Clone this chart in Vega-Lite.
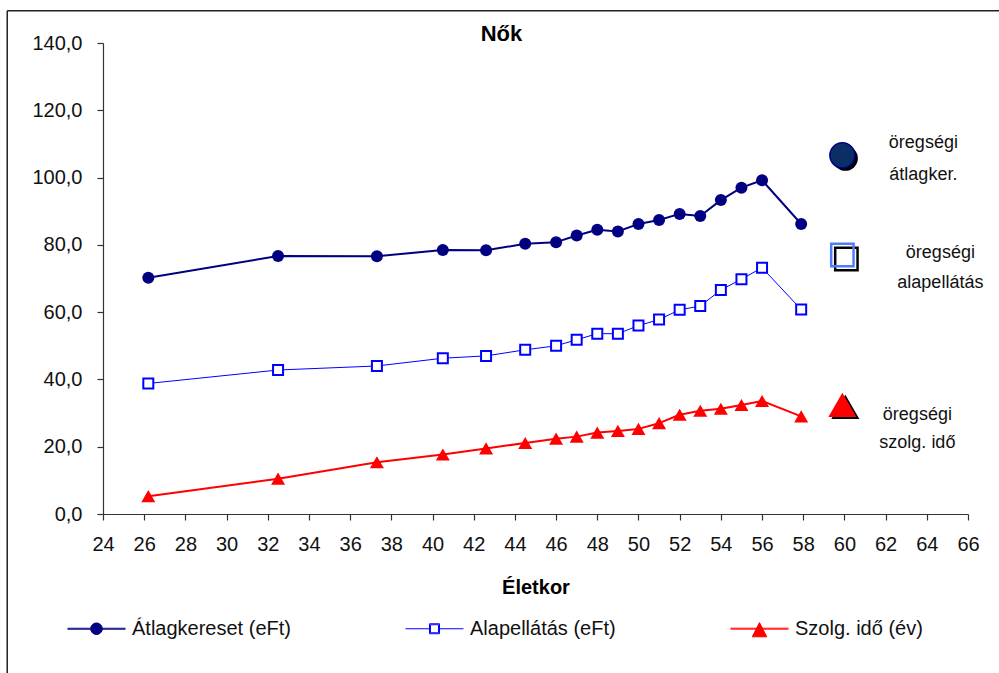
{
  "$schema": "https://vega.github.io/schema/vega-lite/v6.json",
  "width": 865,
  "height": 471,
  "autosize": {"type": "none"},
  "padding": {"left": 103, "top": 43, "right": 31, "bottom": 159},
  "background": "white",
  "config": {
    "font": "Liberation Sans Narrow, Liberation Sans, Arial, sans-serif",
    "view": {"stroke": null},
    "axis": {"grid": false, "domainColor": "#333333", "tickColor": "#333333", "labelColor": "#111111", "titleColor": "#000000", "domainWidth": 1.2, "tickWidth": 1.2}
  },
  "title": {"text": "Nők", "fontSize": 22, "fontWeight": "bold", "anchor": "middle", "dx": -34, "baseline": "alphabetic", "offset": -53, "color": "#000000"},
  "datasets": {
    "main": [
      {"age": 26.2, "series": "Átlagkereset (eFt)", "value": 70.2},
      {"age": 32.5, "series": "Átlagkereset (eFt)", "value": 76.7},
      {"age": 37.3, "series": "Átlagkereset (eFt)", "value": 76.6},
      {"age": 40.5, "series": "Átlagkereset (eFt)", "value": 78.5},
      {"age": 42.6, "series": "Átlagkereset (eFt)", "value": 78.4},
      {"age": 44.5, "series": "Átlagkereset (eFt)", "value": 80.3},
      {"age": 46, "series": "Átlagkereset (eFt)", "value": 80.8},
      {"age": 47, "series": "Átlagkereset (eFt)", "value": 82.8},
      {"age": 48, "series": "Átlagkereset (eFt)", "value": 84.5},
      {"age": 49, "series": "Átlagkereset (eFt)", "value": 84.0},
      {"age": 50, "series": "Átlagkereset (eFt)", "value": 86.2},
      {"age": 51, "series": "Átlagkereset (eFt)", "value": 87.4},
      {"age": 52, "series": "Átlagkereset (eFt)", "value": 89.2},
      {"age": 53, "series": "Átlagkereset (eFt)", "value": 88.6},
      {"age": 54, "series": "Átlagkereset (eFt)", "value": 93.3},
      {"age": 55, "series": "Átlagkereset (eFt)", "value": 97.0},
      {"age": 56, "series": "Átlagkereset (eFt)", "value": 99.2},
      {"age": 57.9, "series": "Átlagkereset (eFt)", "value": 86.2},
      {"age": 26.2, "series": "Alapellátás (eFt)", "value": 38.8},
      {"age": 32.5, "series": "Alapellátás (eFt)", "value": 42.8},
      {"age": 37.3, "series": "Alapellátás (eFt)", "value": 44.0},
      {"age": 40.5, "series": "Alapellátás (eFt)", "value": 46.3},
      {"age": 42.6, "series": "Alapellátás (eFt)", "value": 47.0},
      {"age": 44.5, "series": "Alapellátás (eFt)", "value": 48.8},
      {"age": 46, "series": "Alapellátás (eFt)", "value": 50.0},
      {"age": 47, "series": "Alapellátás (eFt)", "value": 51.8},
      {"age": 48, "series": "Alapellátás (eFt)", "value": 53.6},
      {"age": 49, "series": "Alapellátás (eFt)", "value": 53.6},
      {"age": 50, "series": "Alapellátás (eFt)", "value": 56.0},
      {"age": 51, "series": "Alapellátás (eFt)", "value": 57.8},
      {"age": 52, "series": "Alapellátás (eFt)", "value": 60.7},
      {"age": 53, "series": "Alapellátás (eFt)", "value": 61.8},
      {"age": 54, "series": "Alapellátás (eFt)", "value": 66.6},
      {"age": 55, "series": "Alapellátás (eFt)", "value": 69.8},
      {"age": 56, "series": "Alapellátás (eFt)", "value": 73.2},
      {"age": 57.9, "series": "Alapellátás (eFt)", "value": 60.8},
      {"age": 26.2, "series": "Szolg. idő (év)", "value": 5.3},
      {"age": 32.5, "series": "Szolg. idő (év)", "value": 10.5},
      {"age": 37.3, "series": "Szolg. idő (év)", "value": 15.4},
      {"age": 40.5, "series": "Szolg. idő (év)", "value": 17.7},
      {"age": 42.6, "series": "Szolg. idő (év)", "value": 19.5},
      {"age": 44.5, "series": "Szolg. idő (év)", "value": 21.1},
      {"age": 46, "series": "Szolg. idő (év)", "value": 22.4},
      {"age": 47, "series": "Szolg. idő (év)", "value": 23.0},
      {"age": 48, "series": "Szolg. idő (év)", "value": 24.2},
      {"age": 49, "series": "Szolg. idő (év)", "value": 24.7},
      {"age": 50, "series": "Szolg. idő (év)", "value": 25.3},
      {"age": 51, "series": "Szolg. idő (év)", "value": 27.0},
      {"age": 52, "series": "Szolg. idő (év)", "value": 29.5},
      {"age": 53, "series": "Szolg. idő (év)", "value": 30.7},
      {"age": 54, "series": "Szolg. idő (év)", "value": 31.3},
      {"age": 55, "series": "Szolg. idő (év)", "value": 32.4},
      {"age": 56, "series": "Szolg. idő (év)", "value": 33.6},
      {"age": 57.9, "series": "Szolg. idő (év)", "value": 29.0}
    ],
    "annot": [
      {"series": "Átlagkereset (eFt)", "age": 59.9, "value": 106.6, "label": "öregségi\nátlagker."},
      {"series": "Alapellátás (eFt)", "age": 59.9, "value": 77.0, "label": "öregségi\nalapellátás"},
      {"series": "Szolg. idő (év)", "age": 59.9, "value": 32.4, "label": "öregségi\nszolg. idő"}
    ]
  },
  "layer": [
    {
      "data": {"values": [{}]},
      "mark": {"type": "rule", "color": "#222222", "strokeWidth": 1.5, "clip": false},
      "encoding": {
        "x": {"datum": 19.35, "type": "quantitative", "scale": {"domain": [24, 66], "nice": false, "zero": false}},
        "y": {"datum": 149.6, "type": "quantitative", "scale": {"domain": [0, 140], "nice": false, "zero": true}},
        "y2": {"datum": -80}
      }
    },
    {
      "data": {"values": [{}]},
      "mark": {"type": "rule", "color": "#222222", "strokeWidth": 1.5, "clip": false},
      "encoding": {
        "x": {"datum": 19.35, "type": "quantitative", "scale": {"domain": [24, 66], "nice": false, "zero": false}},
        "x2": {"datum": 75},
        "y": {"datum": 149.6, "type": "quantitative", "scale": {"domain": [0, 140], "nice": false, "zero": true}}
      }
    },
    {
      "encoding": {
        "x": {
          "field": "age", "type": "quantitative",
          "scale": {"domain": [24, 66], "nice": false, "zero": false},
          "axis": {
            "values": [24, 26, 28, 30, 32, 34, 36, 38, 40, 42, 44, 46, 48, 50, 52, 54, 56, 58, 60, 62, 64, 66],
            "title": "Életkor", "titleFontSize": 20, "titleFontWeight": "bold", "titlePadding": 23,
            "labelFontSize": 20, "labelPadding": 14, "tickSize": 6, "labelFlush": false, "labelOverlap": false
          }
        },
        "y": {
          "field": "value", "type": "quantitative",
          "scale": {"domain": [0, 140], "nice": false, "zero": true},
          "axis": {
            "values": [0, 20, 40, 60, 80, 100, 120, 140],
            "labelExpr": "replace(format(datum.value, '.1f'), '.', ',')",
            "title": null, "labelFontSize": 20, "labelPadding": 15, "tickSize": 6, "labelOverlap": false
          }
        }
      },
      "layer": [
        {
          "data": {"name": "main"},
          "mark": {"type": "line", "strokeJoin": "round"},
          "encoding": {
            "color": {
              "field": "series", "type": "nominal",
              "scale": {"domain": ["Átlagkereset (eFt)", "Alapellátás (eFt)", "Szolg. idő (év)"], "range": ["#000080", "#0000FF", "#FF0000"]},
              "legend": {
                "orient": "none", "legendX": -36, "legendY": 556, "direction": "horizontal", "columns": 3,
                "title": null, "symbolSize": 3364, "symbolType": "stroke", "symbolStrokeWidth": 1, "labelFontSize": 20, "labelColor": "#111111", "labelOffset": 6,
                "labelLimit": 400, "columnPadding": 112,
                "encode": {
                  "symbols": {
                    "update": {
                      "shape": {"signal": "datum.value === 'Átlagkereset (eFt)' ? 'M-1,-0.017H1M-1,0.017H1M-0.2,0A0.2,0.2,0,1,0,0.2,0A0.2,0.2,0,1,0,-0.2,0Z' : datum.value === 'Alapellátás (eFt)' ? 'M-1,0H-0.172M0.172,0H1M-0.172,-0.172H0.172V0.172H-0.172ZM-0.138,-0.138H0.138V0.138H-0.138Z' : 'M-1,-0.017H1M-1,0.017H1M0,-0.21L0.25,0.28H-0.25Z'"},
                      "fill": {"signal": "datum.value === 'Alapellátás (eFt)' ? 'white' : datum.value === 'Átlagkereset (eFt)' ? '#000080' : '#FF0000'"},
                      "fillOpacity": {"value": 1}
                    }
                  }
                }
              }
            },
            "strokeWidth": {"condition": {"test": "datum.series === 'Alapellátás (eFt)'", "value": 1}, "value": 2}
          }
        },
        {
          "data": {"name": "main"},
          "transform": [{"filter": "datum.series === 'Átlagkereset (eFt)'"}],
          "mark": {"type": "point", "shape": "circle", "filled": true, "color": "#000080", "size": 144, "opacity": 1}
        },
        {
          "data": {"name": "main"},
          "transform": [{"filter": "datum.series === 'Alapellátás (eFt)'"}],
          "mark": {"type": "point", "shape": "square", "filled": true, "fill": "white", "stroke": "#0000FF", "strokeWidth": 2, "size": 100, "opacity": 1}
        },
        {
          "data": {"name": "main"},
          "transform": [{"filter": "datum.series === 'Szolg. idő (év)'"}],
          "mark": {"type": "point", "shape": "triangle-up", "filled": true, "color": "#FF0000", "size": 196, "opacity": 1}
        },
        {
          "data": {"name": "annot"},
          "transform": [{"filter": "datum.series === 'Átlagkereset (eFt)'"}],
          "mark": {"type": "point", "shape": "circle", "filled": true, "color": "#000000", "size": 625, "opacity": 1, "xOffset": 3, "yOffset": 3}
        },
        {
          "data": {"name": "annot"},
          "transform": [{"filter": "datum.series === 'Átlagkereset (eFt)'"}],
          "mark": {"type": "point", "shape": "circle", "filled": true, "fill": "#0b2e66", "stroke": "#000080", "strokeWidth": 1.5, "size": 625, "opacity": 1}
        },
        {
          "data": {"name": "annot"},
          "transform": [{"filter": "datum.series === 'Alapellátás (eFt)'"}],
          "mark": {"type": "point", "shape": "square", "filled": false, "stroke": "#000000", "strokeWidth": 2.5, "size": 500, "opacity": 1, "xOffset": 4, "yOffset": 4}
        },
        {
          "data": {"name": "annot"},
          "transform": [{"filter": "datum.series === 'Alapellátás (eFt)'"}],
          "mark": {"type": "point", "shape": "square", "filled": false, "stroke": "#4d7cff", "strokeWidth": 2.5, "size": 500, "opacity": 1}
        },
        {
          "data": {"name": "annot"},
          "transform": [{"filter": "datum.series === 'Szolg. idő (év)'"}],
          "mark": {"type": "point", "shape": "triangle-up", "filled": true, "color": "#000000", "size": 784, "opacity": 1, "xOffset": 3, "yOffset": 2}
        },
        {
          "data": {"name": "annot"},
          "transform": [{"filter": "datum.series === 'Szolg. idő (év)'"}],
          "mark": {"type": "point", "shape": "triangle-up", "filled": true, "color": "#FF0000", "size": 784, "opacity": 1}
        },
        {
          "data": {"name": "annot"},
          "transform": [{"filter": "datum.series === 'Átlagkereset (eFt)'"}],
          "mark": {"type": "text", "align": "center", "baseline": "middle", "fontSize": 18, "lineHeight": 32, "lineBreak": "\n", "dx": 81, "dy": -12, "color": "#111111"},
          "encoding": {"text": {"field": "label"}}
        },
        {
          "data": {"name": "annot"},
          "transform": [{"filter": "datum.series === 'Alapellátás (eFt)'"}],
          "mark": {"type": "text", "align": "center", "baseline": "middle", "fontSize": 18, "lineHeight": 30, "lineBreak": "\n", "dx": 98, "dy": -2, "color": "#111111"},
          "encoding": {"text": {"field": "label"}}
        },
        {
          "data": {"name": "annot"},
          "transform": [{"filter": "datum.series === 'Szolg. idő (év)'"}],
          "mark": {"type": "text", "align": "center", "baseline": "middle", "fontSize": 18, "lineHeight": 28, "lineBreak": "\n", "dx": 75, "dy": 10, "color": "#111111"},
          "encoding": {"text": {"field": "label"}}
        }
      ]
    }
  ]
}
